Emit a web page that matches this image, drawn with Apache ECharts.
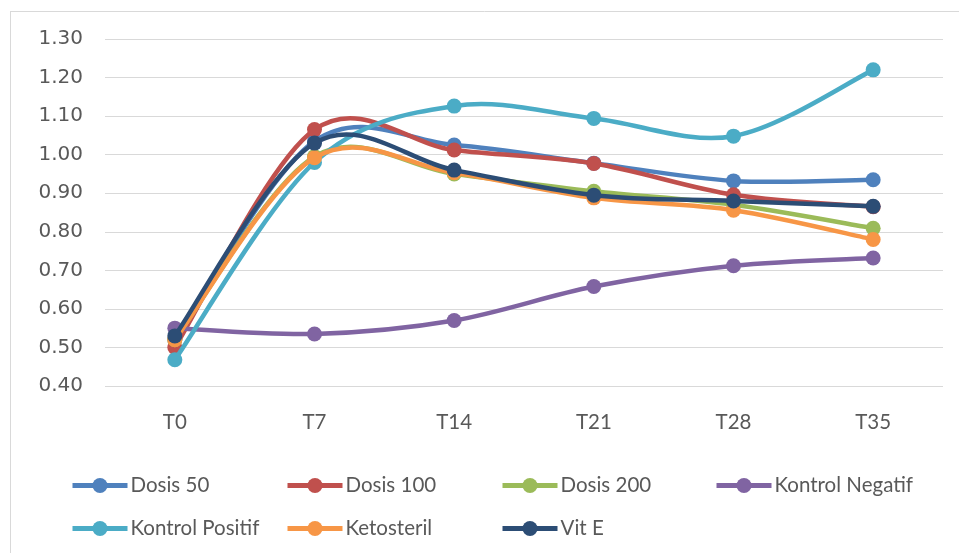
<!DOCTYPE html>
<html>
<head>
<meta charset="utf-8">
<script src="https://cdn.jsdelivr.net/npm/echarts@6/dist/echarts.min.js"></script>
<style>
  html, body { margin: 0; padding: 0; background: #fff; }
  #chart { width: 959px; height: 553px; }
</style>
</head>
<body>
<div id="chart"></div>
<script>
// Time points (days)
var categories = ['T0', 'T7', 'T14', 'T21', 'T28', 'T35'];

// Measured values per group
var dosis50 = [0.52, 1.035, 1.025, 0.978, 0.932, 0.935];
var dosis100 = [0.50, 1.065, 1.012, 0.977, 0.896, 0.865];
var dosis200 = [0.52, 0.995, 0.950, 0.905, 0.870, 0.809];
var kontrolNegatif = [0.55, 0.535, 0.570, 0.658, 0.712, 0.732];
var kontrolPositif = [0.468, 0.980, 1.126, 1.094, 1.048, 1.220];
var ketosteril = [0.52, 0.992, 0.953, 0.888, 0.856, 0.780];
var vitE = [0.53, 1.030, 0.960, 0.895, 0.880, 0.866];

var seriesNames = ['Dosis 50', 'Dosis 100', 'Dosis 200', 'Kontrol Negatif', 'Kontrol Positif', 'Ketosteril', 'Vit E'];
var seriesData = [dosis50, dosis100, dosis200, kontrolNegatif, kontrolPositif, ketosteril, vitE];
var colors = ['#4f81bd', '#c0504d', '#9bbb59', '#8064a2', '#4bacc6', '#f79646', '#2c4d75'];

var chart = echarts.init(document.getElementById('chart'), null, { renderer: 'canvas' });

var textFont = 'Lato, "Open Sans", sans-serif';
var LINE_W = 4.5;

// Legend: four columns, two rows
var legendCols = [70, 285, 500, 714];
var legendRows = [475, 518];
var legends = seriesNames.map(function (name, i) {
  return {
    left: legendCols[i % 4],
    top: legendRows[Math.floor(i / 4)],
    data: [name],
    itemWidth: 55,
    itemHeight: 19,
    itemGap: 0,
    selectedMode: false,
    padding: 0,
    lineStyle: { width: 5, opacity: 1 },
    textStyle: { fontFamily: textFont, fontSize: 20.5, color: '#595959', padding: [0, 0, 0, -2] }
  };
});

// Smooth curve through the points (cubic Bezier, tangent = (next - prev) / 6)
function curveRenderer(values, color) {
  return function (params, api) {
    if (params.dataIndex !== 0) return null;
    var pts = values.map(function (v, j) { return api.coord([j, v]); });
    var children = [];
    for (var j = 0; j < pts.length - 1; j++) {
      var p0 = pts[j - 1] || pts[j];
      var p1 = pts[j];
      var p2 = pts[j + 1];
      var p3 = pts[j + 2] || pts[j + 1];
      children.push({
        type: 'bezierCurve',
        shape: {
          x1: p1[0], y1: p1[1],
          cpx1: p1[0] + (p2[0] - p0[0]) / 6, cpy1: p1[1] + (p2[1] - p0[1]) / 6,
          cpx2: p2[0] - (p3[0] - p1[0]) / 6, cpy2: p2[1] - (p3[1] - p1[1]) / 6,
          x2: p2[0], y2: p2[1]
        },
        style: { fill: null, stroke: color, lineWidth: LINE_W, lineCap: 'round', lineJoin: 'round' }
      });
    }
    return { type: 'group', children: children };
  };
}

var markerSeries = seriesNames.map(function (name, i) {
  return {
    name: name,
    type: 'line',
    data: seriesData[i],
    symbol: 'circle',
    symbolSize: 15,
    showSymbol: true,
    lineStyle: { width: 0, opacity: 0 },
    itemStyle: { color: colors[i] },
    emphasis: { disabled: true },
    z: 3 + 2 * i
  };
});

var curveSeries = seriesNames.map(function (name, i) {
  return {
    name: name,
    type: 'custom',
    coordinateSystem: 'cartesian2d',
    data: seriesData[i].map(function (v, j) { return [j, v]; }),
    renderItem: curveRenderer(seriesData[i], colors[i]),
    silent: true,
    z: 2 + 2 * i
  };
});

chart.setOption({
  backgroundColor: '#ffffff',
  animation: false,
  color: colors,
  grid: { left: 105, right: 16, top: 39, bottom: 167, containLabel: false },
  graphic: [
    { type: 'line', shape: { x1: 10.5, y1: 11, x2: 10.5, y2: 553 }, style: { stroke: '#d9d9d9', lineWidth: 1 } },
    { type: 'line', shape: { x1: 10, y1: 11.5, x2: 959, y2: 11.5 }, style: { stroke: '#d9d9d9', lineWidth: 1 } }
  ],
  legend: legends,
  xAxis: {
    type: 'category',
    data: categories,
    boundaryGap: true,
    axisLine: { show: false },
    axisTick: { show: false },
    axisLabel: { margin: 26, fontFamily: textFont, fontSize: 20.5, color: '#595959' },
    splitLine: { show: false }
  },
  yAxis: {
    type: 'value',
    min: 0.4,
    max: 1.3,
    interval: 0.1,
    axisLine: { show: false },
    axisTick: { show: false },
    axisLabel: {
      margin: 22,
      fontFamily: '"DejaVu Sans", sans-serif',
      fontSize: 20,
      color: '#595959',
      formatter: function (v) { return v.toFixed(2); }
    },
    splitLine: { show: true, lineStyle: { color: '#d9d9d9', width: 1 } }
  },
  series: markerSeries.concat(curveSeries)
});
</script>
</body>
</html>
